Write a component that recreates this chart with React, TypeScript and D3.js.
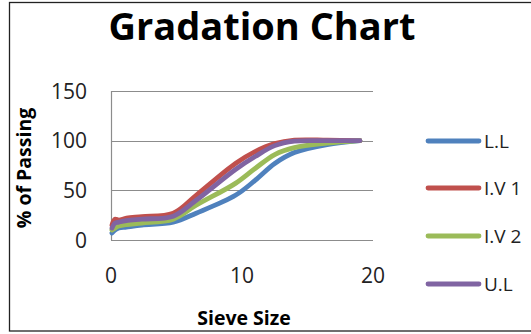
import React from "react";
import * as d3 from "d3";

const sieveSizes = [0.075, 0.3, 0.6, 1.18, 2.36, 4.75, 6.5, 9.5, 11, 12.5, 14, 16.5, 19];
const seriesNames = ["L.L", "I.V 1", "I.V 2", "U.L"];
const lowerLimit = [7, 10, 12, 13, 15, 18, 27, 45, 60, 77, 88, 96, 100];
const iv1 = [15, 21, 20, 22, 23.5, 27, 45, 77, 89, 97, 100.5, 100.5, 100];
const iv2 = [10, 12, 14, 15.5, 17, 21, 35, 57, 72, 86, 93, 97.5, 100];
const upperLimit = [12, 17, 18, 19.5, 21, 24, 40, 71, 84, 95, 99.5, 100, 100];
const seriesColors = ["#4F81BD", "#C0504D", "#9BBB59", "#8064A2"];
const xTicks = [0, 10, 20];
const yTicks = [0, 50, 100, 150];

const W = 531;
const H = 334;
const font = "'Open Sans', 'Liberation Sans', sans-serif";

export default function App() {
  const x = d3.scaleLinear().domain([0, 20]).range([111, 373]);
  const y = d3.scaleLinear().domain([0, 150]).range([240, 91]);
  const allSeries = [lowerLimit, iv1, iv2, upperLimit];
  const line = d3
    .line<[number, number]>()
    .x((d) => x(d[0]))
    .y((d) => y(d[1]))
    .curve(d3.curveCatmullRom.alpha(0.5));

  const legendY = [141, 188, 236, 284];

  return (
    <svg
      width={W}
      height={H}
      style={{ position: "absolute", left: 0, top: 0, background: "#fff" }}
    >
      <rect x={0} y={0} width={W} height={H} fill="#fff" />
      <rect x={9.5} y={2.5} width={W + 20} height={328.5} fill="none" stroke="#222" strokeWidth={1.3} />
      <text
        x={262}
        y={40}
        textAnchor="middle"
        fontFamily={font}
        fontWeight="bold"
        fontSize={38}
        fill="#000"
      >
        Gradation Chart
      </text>
      {yTicks.map((t) => (
        <g key={"y" + t}>
          <line x1={111} x2={373} y1={Math.round(y(t)) + 0.5} y2={Math.round(y(t)) + 0.5} stroke="#8c8c8c" strokeWidth={1.2} />
          <text
            x={87}
            y={y(t)}
            dy="0.36em"
            textAnchor="end"
            fontFamily={font}
            fontSize={21}
            fill="#222"
          >
            {t}
          </text>
        </g>
      ))}
      <line x1={111.5} x2={111.5} y1={91} y2={240} stroke="#8c8c8c" strokeWidth={1.2} />
      {xTicks.map((t) => (
        <text
          key={"x" + t}
          x={x(t)}
          y={283}
          textAnchor="middle"
          fontFamily={font}
          fontSize={21}
          fill="#222"
        >
          {t}
        </text>
      ))}
      <text
        x={244}
        y={325}
        textAnchor="middle"
        fontFamily={font}
        fontWeight="bold"
        fontSize={19.5}
        fill="#000"
      >
        Sieve Size
      </text>
      <text
        transform="translate(31,168) rotate(-90)"
        textAnchor="middle"
        fontFamily={font}
        fontWeight="bold"
        fontSize={19.5}
        fill="#000"
      >
        % of Passing
      </text>
      {allSeries.map((vals, i) => (
        <path
          key={seriesNames[i]}
          d={line(sieveSizes.map((s, j) => [s, vals[j]] as [number, number])) || ""}
          fill="none"
          stroke={seriesColors[i]}
          strokeWidth={4.8}
          strokeLinecap="round"
          strokeLinejoin="round"
        />
      ))}
      {seriesNames.map((n, i) => (
        <g key={"lg" + n}>
          <line
            x1={428}
            x2={479}
            y1={legendY[i]}
            y2={legendY[i]}
            stroke={seriesColors[i]}
            strokeWidth={4.8}
            strokeLinecap="round"
          />
          <text
            x={484}
            y={legendY[i]}
            dy="0.36em"
            fontFamily={font}
            fontSize={19}
            fill="#222"
          >
            {n}
          </text>
        </g>
      ))}
    </svg>
  );
}
